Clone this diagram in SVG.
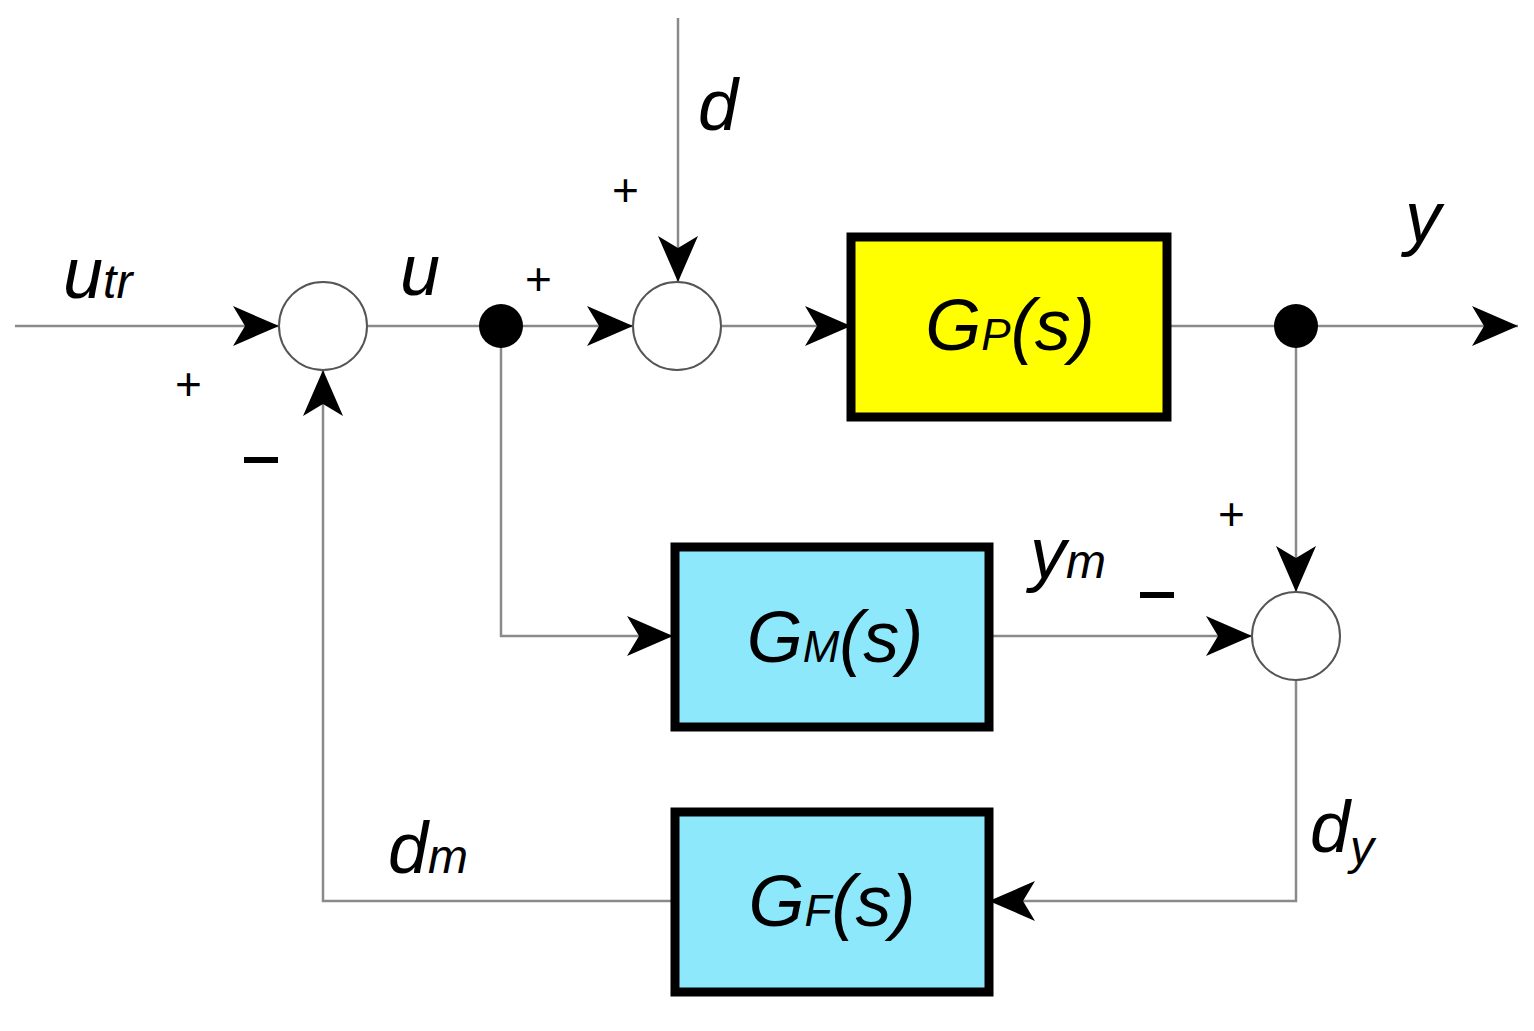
<svg xmlns="http://www.w3.org/2000/svg" width="1534" height="1031" viewBox="0 0 1534 1031">
<style>
.ln{stroke:#8a8a8a;stroke-width:2.5;fill:none}
.sum{fill:#fff;stroke:#555;stroke-width:2}
.box{stroke:#000;stroke-width:9}
.t{font-family:"Liberation Sans",Arial,sans-serif;font-style:italic;fill:#000}
.s{font-family:"Liberation Sans",Arial,sans-serif;font-size:46px;fill:#000}
</style>
<defs>
<marker id="a" markerUnits="userSpaceOnUse" markerWidth="50" markerHeight="44" refX="46" refY="20" orient="auto">
<path d="M0,0 L46,20 L0,40 L12,20 z" fill="#000"/>
</marker>
</defs>
<rect width="1534" height="1031" fill="#fff"/>
<g id="connectors">
<path class="ln" d="M15,326 H279" marker-end="url(#a)"/>
<path class="ln" d="M367,326 H633" marker-end="url(#a)"/>
<path class="ln" d="M678,18 V282" marker-end="url(#a)"/>
<path class="ln" d="M721,326 H851" marker-end="url(#a)"/>
<path class="ln" d="M1167,326 H1518" marker-end="url(#a)"/>
<path class="ln" d="M501,326 V636 H673" marker-end="url(#a)"/>
<path class="ln" d="M989,636 H1252" marker-end="url(#a)"/>
<path class="ln" d="M1296,326 V592" marker-end="url(#a)"/>
<path class="ln" d="M1296,680 V901 H989" marker-end="url(#a)"/>
<path class="ln" d="M673,901 H323 V370" marker-end="url(#a)"/>
</g>
<g id="sum1"><circle class="sum" cx="323" cy="326" r="44"/></g>
<g id="sum2"><circle class="sum" cx="677" cy="326" r="44"/></g>
<g id="sum3"><circle class="sum" cx="1296" cy="636" r="44"/></g>
<g id="dot1"><circle cx="501" cy="326" r="22" fill="#000"/></g>
<g id="dot2"><circle cx="1296" cy="326" r="22" fill="#000"/></g>
<g id="GP"><rect class="box" x="851" y="237" width="316" height="180" fill="#ffff00"/>
<text class="t" x="1010" y="350" font-size="72" text-anchor="middle">G<tspan font-size="44">P</tspan>(s)</text></g>
<g id="GM"><rect class="box" x="675" y="547" width="314" height="180" fill="#8ee8fc"/>
<text class="t" x="835" y="662" font-size="72" text-anchor="middle">G<tspan font-size="44">M</tspan>(s)</text></g>
<g id="GF"><rect class="box" x="675" y="812" width="314" height="180" fill="#8ee8fc"/>
<text class="t" x="832" y="926" font-size="72" text-anchor="middle">G<tspan font-size="44">F</tspan>(s)</text></g>
<g id="labels">
<text class="t" x="63" y="298" font-size="72">u<tspan font-size="48">tr</tspan></text>
<text class="t" x="400" y="295" font-size="72">u</text>
<text class="t" x="698" y="130" font-size="72">d</text>
<text class="t" x="1405" y="242" font-size="72">y</text>
<text class="t" x="1030" y="578" font-size="72">y<tspan font-size="48">m</tspan></text>
<text class="t" x="1310" y="852" font-size="72">d<tspan font-size="48" dy="12">y</tspan></text>
<text class="t" x="388" y="873" font-size="72">d<tspan font-size="48">m</tspan></text>
<text class="s" x="612" y="206">+</text>
<text class="s" x="525" y="295">+</text>
<text class="s" x="175" y="400">+</text>
<text class="s" x="1218" y="530">+</text>
<rect x="244" y="457" width="34" height="6" fill="#000"/>
<rect x="1140" y="592" width="34" height="6" fill="#000"/>
</g>
</svg>
